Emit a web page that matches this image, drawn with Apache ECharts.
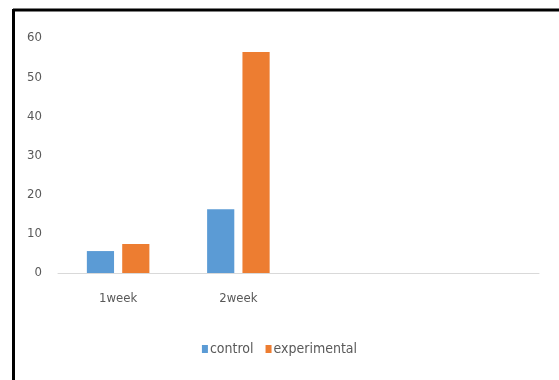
<!DOCTYPE html>
<html><head><meta charset="utf-8">
<script src="https://cdn.jsdelivr.net/npm/echarts@6/dist/echarts.min.js"></script>
<style>html,body{margin:0;padding:0;background:#fff}#c{width:559px;height:380px}</style>
</head><body><div id="c"></div>
<script>
const categories = ['1week', '2week', '', ''];
const controlValues = [5.6, 16.3, null, null];
const experimentalValues = [7.4, 56.4, null, null];
const seriesNames = ['control', 'experimental'];
const yTicks = {min: 0, max: 60, interval: 10};

const font = "'Liberation Sans Narrow','DejaVu Sans Condensed',sans-serif";
const chart = echarts.init(document.getElementById('c'));
chart.setOption({
  animation: false,
  backgroundColor: '#fff',
  textStyle: {fontFamily: font},
  grid: {left: 58, right: 20, top: 38, bottom: 107},
  legend: {
    data: seriesNames, bottom: 19, left: 'center',
    itemWidth: 6, itemHeight: 8, itemGap: 12,
    icon: 'rect',
    textStyle: {fontFamily: font, fontSize: 14, color: '#595959', padding: [0, 0, 0, -3]}
  },
  xAxis: {
    type: 'category', data: categories,
    axisLine: {lineStyle: {color: '#d9d9d9', width: 1}},
    axisTick: {show: false},
    axisLabel: {color: '#595959', fontSize: 13, margin: 19, fontFamily: font}
  },
  yAxis: {
    type: 'value', min: yTicks.min, max: yTicks.max, interval: yTicks.interval,
    axisLine: {show: false}, axisTick: {show: false},
    splitLine: {show: false},
    axisLabel: {color: '#595959', fontSize: 13, margin: 16, fontFamily: font}
  },
  series: [
    {name: seriesNames[0], type: 'bar', data: controlValues, itemStyle: {color: '#5B9BD5'},
     barGap: '30%', barCategoryGap: '48%'},
    {name: seriesNames[1], type: 'bar', data: experimentalValues, itemStyle: {color: '#ED7D31'},
     barGap: '30%', barCategoryGap: '48%'}
  ],
  graphic: [
    {type: 'line', shape: {x1: 13, y1: 10, x2: 559, y2: 10}, style: {stroke: '#000', lineWidth: 3}},
    {type: 'line', shape: {x1: 13.5, y1: 9, x2: 13.5, y2: 380}, style: {stroke: '#000', lineWidth: 3}}
  ]
});
</script></body></html>
